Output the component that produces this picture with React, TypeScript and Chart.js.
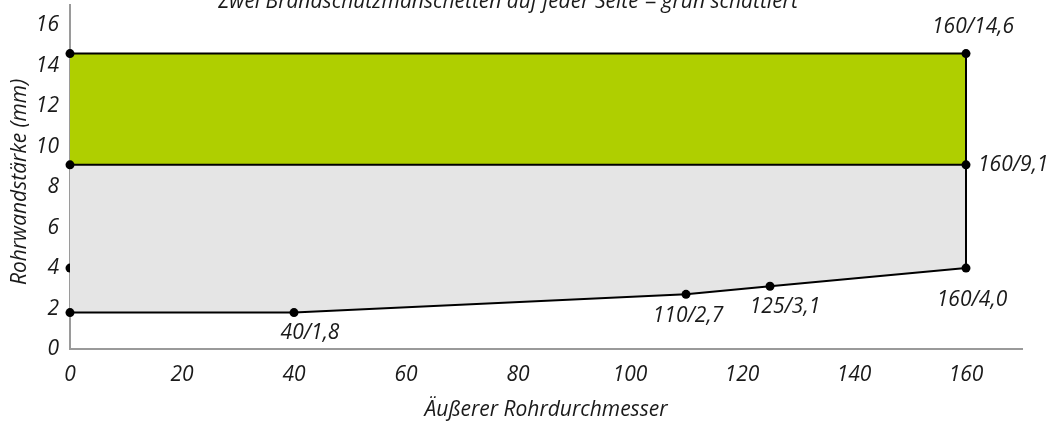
import React, { useEffect, useRef } from "react";
import { Chart, registerables } from "chart.js";

Chart.register(...registerables);

// ---- Data ----
const titleText = "Zwei Brandschutzmanschetten auf jeder Seite = grün schattiert";
const xAxisTitle = "Äußerer Rohrdurchmesser";
const yAxisTitle = "Rohrwandstärke (mm)";

// lower boundary (minimum wall thickness)
const lowerX = [0, 40, 110, 125, 160];
const lowerY = [1.8, 1.8, 2.7, 3.1, 4.0];
// boundary one/two collars
const midX = [0, 160];
const midY = [9.1, 9.1];
// upper limit
const topX = [0, 160];
const topY = [14.6, 14.6];
// right edge
const edgeX = [160, 160];
const edgeY = [4.0, 14.6];
// extra marker on the y axis
const extraX = [0];
const extraY = [4.0];

// labelled points
const labelX = [40, 110, 125, 160, 160, 160];
const labelY = [1.8, 2.7, 3.1, 4.0, 9.1, 14.6];
const labelText = ["40/1,8", "110/2,7", "125/3,1", "160/4,0", "160/9,1", "160/14,6"];

const xMin = 0, xMax = 170, xStep = 20;
const yMin = 0, yMax = 17, yStep = 2;

// label placement (style)
const labelStyle = [
  { dx: 16, dy: 20, align: "center" },
  { dx: 2, dy: 22, align: "center" },
  { dx: 15, dy: 21, align: "center" },
  { dx: 6, dy: 32, align: "center" },
  { dx: 12, dy: 0, align: "left" },
  { dx: 7, dy: -27, align: "center" },
];

const pts = (xs: number[], ys: number[]) => xs.map((x, i) => ({ x, y: ys[i] }));

const FONT = "'Open Sans', sans-serif";
const FS = 21;
const GREEN = "rgb(175,207,0)";
const GREY = "rgb(229,229,229)";

export default function App() {
  const ref = useRef<HTMLCanvasElement>(null);

  useEffect(() => {
    const canvas = ref.current;
    if (!canvas) return;

    const textPlugin = {
      id: "textPlugin",
      afterDatasetsDraw(chart: any) {
        const { ctx, scales, chartArea } = chart;
        const xs = scales.x;
        const ys = scales.y;
        ctx.save();
        ctx.fillStyle = "#1a1a1a";
        ctx.font = `italic ${FS}px ${FONT}`;
        ctx.textBaseline = "middle";
        labelText.forEach((t, i) => {
          const st = labelStyle[i];
          const px = xs.getPixelForValue(labelX[i]) + st.dx;
          const py = ys.getPixelForValue(labelY[i]) + st.dy;
          ctx.textAlign = st.align;
          ctx.fillText(t, px, py);
        });
        // title
        ctx.textAlign = "center";
        ctx.textBaseline = "alphabetic";
        ctx.fillText(titleText, 508, 8);
        // x axis title
        ctx.textBaseline = "middle";
        ctx.fillText(xAxisTitle, (chartArea.left + chartArea.right) / 2, 410);
        // y axis title
        ctx.translate(20, 182);
        ctx.rotate(-Math.PI / 2);
        ctx.fillText(yAxisTitle, 0, 0);
        ctx.restore();
      },
    };

    const lineDs = (data: any[], withPoints: boolean) => ({
      data,
      borderColor: "#000",
      borderWidth: 2,
      backgroundColor: "#000",
      pointBackgroundColor: "#000",
      pointBorderWidth: 0,
      pointRadius: withPoints ? 4.5 : 0,
      fill: false,
      clip: false as any,
      tension: 0,
      order: 0,
    });

    const chart = new Chart(canvas, {
      type: "line",
      data: {
        datasets: [
          {
            data: pts(lowerX, lowerY),
            fill: "+1",
            backgroundColor: GREY,
            borderWidth: 0,
            pointRadius: 0,
            order: 5,
          },
          {
            data: pts(midX, midY),
            fill: "+1",
            backgroundColor: GREEN,
            borderWidth: 0,
            pointRadius: 0,
            order: 5,
          },
          {
            data: pts(topX, topY),
            fill: false,
            borderWidth: 0,
            pointRadius: 0,
            order: 5,
          },
          lineDs(pts(lowerX, lowerY), true),
          lineDs(pts(midX, midY), true),
          lineDs(pts(topX, topY), true),
          lineDs(pts(edgeX, edgeY), false),
          {
            ...lineDs(pts(extraX, extraY), true),
            showLine: false,
            order: 10,
          },
        ] as any,
      },
      options: {
        animation: false,
        responsive: false,
        layout: { padding: { left: 0, top: 5, right: 32, bottom: 0 } },
        plugins: {
          legend: { display: false },
          tooltip: { enabled: false },
          title: { display: false },
        },
        elements: { line: { tension: 0 } },
        scales: {
          x: {
            type: "linear",
            min: xMin,
            max: xMax,
            grid: { display: false },
            border: { display: true, color: "#9a9a9a", width: 2 },
            ticks: {
              stepSize: xStep,
              includeBounds: false,
              autoSkip: false,
              maxRotation: 0,
              padding: 5,
              color: "#1a1a1a",
              font: { family: FONT, size: FS, style: "italic" },
            },
            afterFit(scale: any) {
              scale.height = 76;
              scale.paddingLeft = 0;
              scale.paddingRight = 0;
            },
          },
          y: {
            type: "linear",
            min: yMin,
            max: yMax,
            grid: { display: false },
            border: { display: true, color: "#9a9a9a", width: 2 },
            ticks: {
              stepSize: yStep,
              includeBounds: false,
              autoSkip: false,
              padding: 3,
              color: "#1a1a1a",
              font: { family: FONT, size: FS, style: "italic" },
            },
            afterFit(scale: any) {
              scale.width = 70;
              scale.paddingTop = 0;
              scale.paddingBottom = 0;
            },
          },
        },
      } as any,
      plugins: [textPlugin],
    });

    return () => chart.destroy();
  }, []);

  return (
    <div style={{ position: "absolute", left: 0, top: 0, width: 1054, height: 425, background: "#fff" }}>
      <canvas ref={ref} width={1054} height={425} />
    </div>
  );
}
